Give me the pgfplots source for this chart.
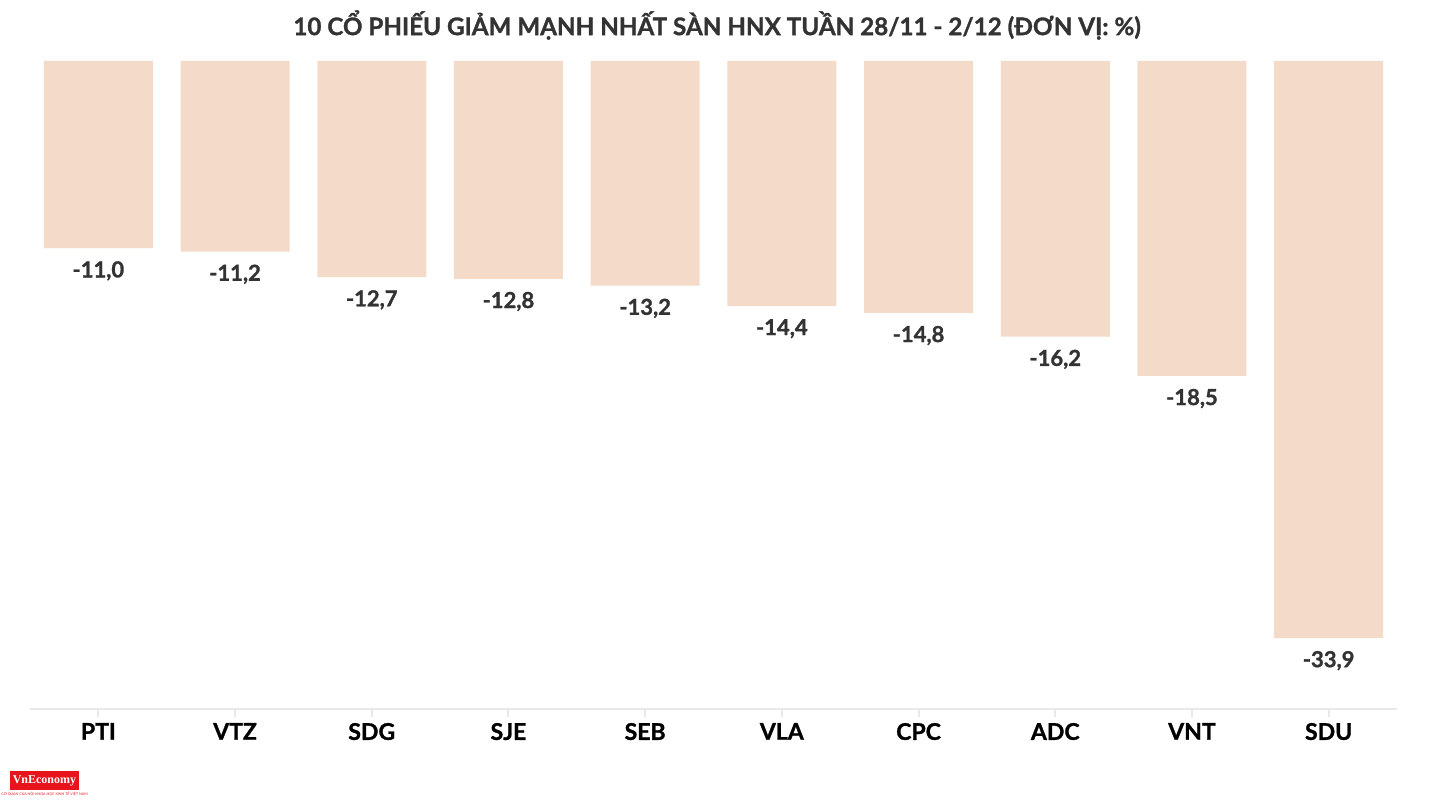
\documentclass[border=0pt]{standalone}
\usepackage{pgfplots}
\pgfplotsset{compat=1.18}
\usepackage{fontspec}
\setmainfont{Lato}[BoldFeatures={FakeBold=1.2}]
\newfontfamily\logofont{Liberation Serif}
\definecolor{barc}{HTML}{F3DAC9}
\definecolor{labc}{HTML}{333333}
\definecolor{axc}{HTML}{E8E8E8}
\definecolor{vnred}{HTML}{E8141B}
\begin{document}
\begin{tikzpicture}
\useasboundingbox (0,0) rectangle (717pt,403pt);
\node[font=\bfseries\fontsize{12.1}{14}\selectfont, text=labc] at (358.5pt,390.5pt) {10 CỔ PHIẾU GIẢM MẠNH NHẤT SÀN HNX TUẦN 28/11 - 2/12 (ĐƠN VỊ: \%)};
\begin{axis}[
  at={(15pt,48.5pt)}, anchor=south west,
  width=683.5pt, height=324pt, scale only axis,
  xmin=-0.5, xmax=9.5, ymin=-38.07, ymax=0,
  axis x line*=bottom, axis y line=none,
  x axis line style={axc, line width=1pt, -},
  xtick={0,...,9},
  xticklabels={PTI,VTZ,SDG,SJE,SEB,VLA,CPC,ADC,VNT,SDU},
  xticklabel style={font=\bfseries\fontsize{11.5}{13}\selectfont, text=black, yshift=0.5pt},
  major tick length=4pt,
  tick style={axc, line width=1pt},
  xtick align=outside,
  ybar, bar width=54.5pt,
  nodes near coords,
  nodes near coords style={font=\bfseries\fontsize{11}{13}\selectfont, text=labc, yshift=-3pt},
  /pgf/number format/.cd, fixed, fixed zerofill, precision=1, use comma, assume math mode=true,
]
\addplot[fill=barc, draw=none] coordinates {
(0,-11.0) (1,-11.2) (2,-12.7) (3,-12.8) (4,-13.2) (5,-14.4) (6,-14.8) (7,-16.2) (8,-18.5) (9,-33.9)};
\end{axis}
\fill[vnred] (5pt,8pt) rectangle (39.5pt,17.5pt);
\node[font=\logofont\bfseries\fontsize{6}{6}\selectfont, text=white, inner sep=0pt] at (22.25pt,12.5pt) {VnEconomy};
\node[font=\fontsize{1.8}{2}\selectfont, text=vnred, inner sep=0pt] at (22.25pt,6pt) {CƠ QUAN CỦA HỘI KHOA HỌC KINH TẾ VIỆT NAM};
\end{tikzpicture}
\end{document}
